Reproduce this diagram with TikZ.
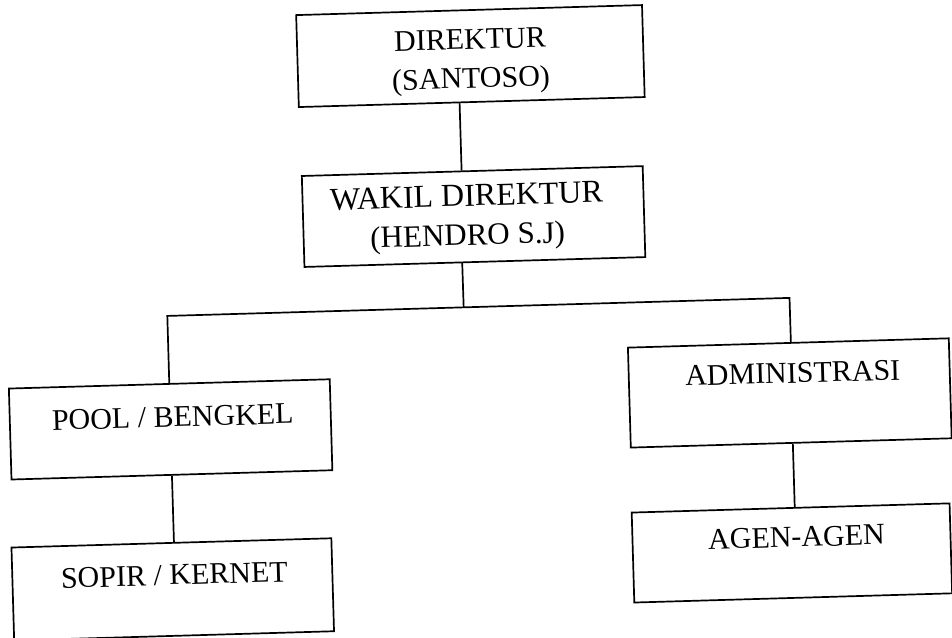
\documentclass[tikz,border=0pt]{standalone}
\usepackage{fontspec}
\setmainfont{Liberation Serif}
\usetikzlibrary{calc}
\begin{document}
\begin{tikzpicture}[x=1pt,y=-1pt,
  orgbox/.style={draw, line width=1.7pt, rectangle, inner sep=0pt, transform shape},
  lbl/.style={anchor=base, inner sep=0pt, font=\fontsize{30}{36}\selectfont, transform shape},
  conn/.style={line width=1.7pt}]
\useasboundingbox (0,0) rectangle (952,637);
\clip (0,0) rectangle (952,637);
\begin{scope}[rotate around={1.66:(476,318)}]
% boxes
\node[orgbox, minimum width=346pt, minimum height=92pt] (dir) at (478,56) {};
\node[orgbox, minimum width=341pt, minimum height=91pt] (wak) at (476.5,216.5) {};
\node[orgbox, minimum width=321pt, minimum height=91pt] (pool) at (167.5,420.5) {};
\node[orgbox, minimum width=320pt, minimum height=93pt] (sop) at (165,580.5) {};
\node[orgbox, minimum width=321pt, minimum height=100pt] (adm) at (787.5,402) {};
\node[orgbox, minimum width=318pt, minimum height=90pt] (agen) at (785,562) {};
% texts
\node[lbl] (dirA) at (478,49) {DIREKTUR};
\node[lbl] (dirB) at (478,88) {(SANTOSO)};
\node[lbl, font=\fontsize{32}{38}\selectfont] (wakA) at (470,206) {WAKIL DIREKTUR};
\node[lbl, font=\fontsize{31}{37}\selectfont] (wakB) at (470,245) {(HENDRO S.J)};
\node[lbl] (poolA) at (170,418) {POOL / BENGKEL};
\node[lbl] (sopA) at (167,576) {SOPIR / KERNET};
\node[lbl] (admA) at (791,392) {ADMINISTRASI};
\node[lbl] (agenA) at (790,556) {AGEN-AGEN};
% junction points
\coordinate (jm) at (464,307);
\coordinate (jl) at (167.5,307);
\coordinate (jr) at (790,307);
% connectors
\draw[conn] ($(dir.south west)!0.465!(dir.south east)$) -- ($(wak.north west)!0.469!(wak.north east)$);
\draw[conn] ($(wak.south west)!0.463!(wak.south east)$) -- (jm);
\draw[conn] (pool.north) -- (jl) -- (jr) -- ($(adm.north west)!0.508!(adm.north east)$);
\draw[conn] (pool.south) -- ($(sop.north west)!0.508!(sop.north east)$);
\draw[conn] ($(adm.south west)!0.505!(adm.south east)$) -- ($(agen.north west)!0.513!(agen.north east)$);
\end{scope}
\end{tikzpicture}
\end{document}
